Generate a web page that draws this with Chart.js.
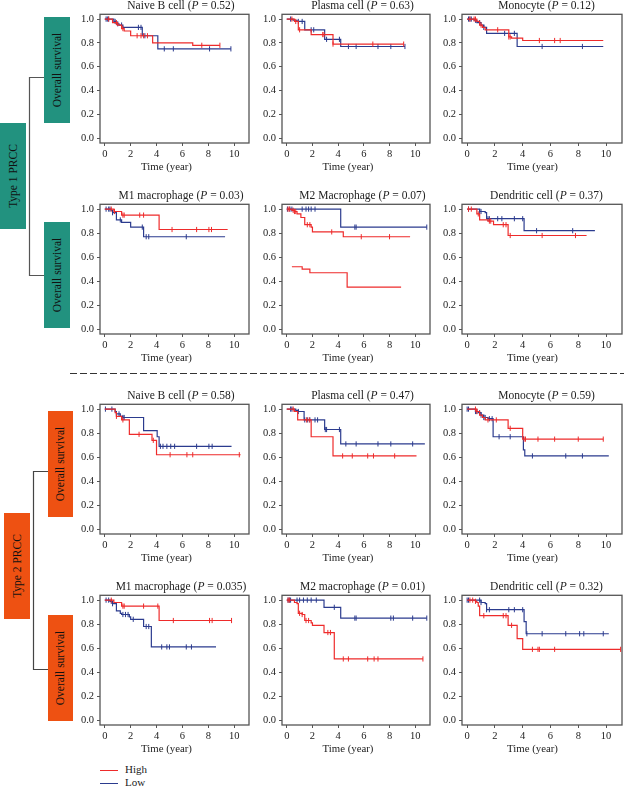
<!DOCTYPE html>
<html>
<head>
<meta charset="utf-8">
<script src="https://cdn.jsdelivr.net/npm/chart.js@4.4.0/dist/chart.umd.min.js"></script>
<style>
  body { margin: 0; background: #fff; font-family: "Liberation Serif", serif; }
  #fig { position: relative; width: 624px; height: 786px; overflow: hidden; background: #fff; }
  .panel { position: absolute; }
  .ptitle { position: absolute; font-size: 11.5px; line-height: 14px; height: 14px; color: #222; white-space: nowrap; transform: translateX(-50%); }
  .xtitle { position: absolute; font-size: 10.8px; line-height: 13px; height: 13px; color: #222; white-space: nowrap; transform: translateX(-50%); }
  .tag { position: absolute; display: flex; align-items: center; justify-content: center; }
  .tag span { transform: rotate(-90deg); white-space: nowrap; font-size: 11.5px; color: #111; }
  .teal { background: #22927f; }
  .orange { background: #ee5112; }
  .leg { position: absolute; left: 100px; font-size: 11px; line-height: 12px; color: #222; }
  .leg i { display: inline-block; width: 18px; height: 1.3px; vertical-align: middle; margin-right: 7px; }
</style>
</head>
<body>
<div id="fig">
  <svg width="624" height="786" style="position:absolute;left:0;top:0">
    <path d="M44 77.5 H29.5 V275.5 H44" stroke="#555" stroke-width="1.2" fill="none"/>
    <path d="M48 471.5 H33.5 V669.5 H48" stroke="#444" stroke-width="1.2" fill="none"/>
    <line x1="70" y1="373.5" x2="624" y2="373.5" stroke="#333" stroke-width="1.2" stroke-dasharray="7 3"/>
  </svg>
  <div class="tag teal" style="left:44px;top:17px;width:26px;height:106px"><span>Overall survival</span></div>
  <div class="tag teal" style="left:44px;top:222px;width:26px;height:106px"><span>Overall survival</span></div>
  <div class="tag teal" style="left:0px;top:123px;width:26px;height:106px"><span>Type 1 PRCC</span></div>
  <div class="tag orange" style="left:48px;top:411px;width:25px;height:106px"><span>Overall survival</span></div>
  <div class="tag orange" style="left:48px;top:615px;width:25px;height:106px"><span>Overall survival</span></div>
  <div class="tag orange" style="left:4px;top:513px;width:26px;height:106px"><span>Type 2 PRCC</span></div>
  <div class="leg" style="top:763px"><i style="background:#ee2b2b"></i>High</div>
  <div class="leg" style="top:776px"><i style="background:#2b3b8e"></i>Low</div>
</div>
<script>
// axis ticks
const xTicks = [0, 2, 4, 6, 8, 10];
const yTicks = [0, 0.2, 0.4, 0.6, 0.8, 1.0];

const panelNames = ['Naive B cell', 'Plasma cell', 'Monocyte', 'M1 macrophage', 'M2 Macrophage', 'Dendritic cell',
                    'Naive B cell', 'Plasma cell', 'Monocyte', 'M1 macrophage', 'M2 macrophage', 'Dendritic cell'];
const pValues = ['0.52', '0.63', '0.12', '0.03', '0.07', '0.37', '0.58', '0.47', '0.59', '0.035', '0.01', '0.32'];

// KM steps as [time, survival], censor times
// Type 1 PRCC
const t1NaiveHigh = [[0,1],[0.6,0.97],[1.0,0.95],[1.3,0.92],[1.5,0.9],[2.0,0.86],[3.7,0.8],[6.8,0.78],[8.9,0.78]];
const t1NaiveHighCens = [0.3, 0.9, 1.4, 2.5, 2.8, 3.0, 3.3, 7.5, 8.9];
const t1NaiveLow = [[0,1],[0.7,0.98],[0.9,0.96],[1.1,0.95],[1.4,0.93],[2.9,0.86],[4.1,0.75],[9.75,0.75]];
const t1NaiveLowCens = [0.1, 0.2, 0.3, 0.8, 1.0, 1.3, 2.6, 2.8, 3.1, 4.6, 5.3, 8.1, 9.75];

const t1PlasmaHigh = [[0,1],[0.6,0.98],[0.9,0.91],[1.9,0.87],[3.6,0.79],[9.1,0.79]];
const t1PlasmaHighCens = [0.4, 0.7, 1.0, 2.8, 2.9, 3.6, 6.7, 9.1];
const t1PlasmaLow = [[0,1],[0.5,0.99],[0.8,0.98],[1.4,0.91],[2.95,0.83],[4.2,0.77],[9.2,0.77]];
const t1PlasmaLowCens = [0.3, 0.9, 1.2, 1.9, 2.1, 3.1, 4.1, 4.8, 5.4, 7.1, 8.1, 9.2];

const t1MonoHigh = [[0,1],[0.7,0.98],[0.9,0.95],[1.1,0.93],[1.3,0.91],[3.0,0.85],[3.2,0.84],[4.0,0.82],[9.8,0.82]];
const t1MonoHighCens = [0.2, 0.5, 0.6, 1.0, 2.2, 3.0, 3.1, 5.2, 6.3, 6.7];
const t1MonoLow = [[0,1],[0.5,0.99],[0.7,0.97],[1.0,0.95],[1.2,0.93],[1.4,0.88],[3.6,0.77],[9.8,0.77]];
const t1MonoLowCens = [0.1, 0.2, 0.3, 0.6, 0.9, 1.2, 2.7, 3.4, 5.4, 8.3];

const t1M1High = [[0,1],[0.7,0.98],[1.3,0.95],[4.2,0.83],[9.5,0.83]];
const t1M1HighCens = [0.5, 0.75, 1.4, 1.5, 2.7, 3.0, 5.2, 7.1, 8.05, 8.25];
const t1M1Low = [[0,1],[0.5,0.99],[0.6,0.97],[0.9,0.91],[1.3,0.89],[2.0,0.85],[3.0,0.77],[9.3,0.77]];
const t1M1LowCens = [0.1, 0.3, 0.4, 0.6, 1.2, 2.9, 3.2, 3.4, 6.3];

const t1M2High = [[0,1],[0.4,0.99],[0.6,0.98],[0.8,0.96],[1.1,0.93],[1.4,0.87],[1.9,0.85],[2.0,0.81],[4.4,0.77],[9.6,0.77]];
const t1M2HighCens = [0.1, 0.2, 0.5, 0.6, 0.7, 1.6, 1.8, 3.5, 5.8, 8.0];
const t1M2HighExtra = [[0.4,0.52],[1.2,0.5],[1.8,0.47],[4.7,0.35],[8.9,0.35]];
const t1M2Low = [[0,1],[4.2,0.85],[10.9,0.85]];
const t1M2LowCens = [0.05, 0.25, 0.4, 1.2, 1.5, 1.7, 1.9, 2.2, 5.3, 5.4, 10.9];

const t1DcHigh = [[0,1],[0.7,0.96],[0.9,0.91],[1.5,0.9],[1.9,0.87],[2.95,0.78],[8.6,0.78]];
const t1DcHighCens = [0.1, 0.3, 0.8, 1.6, 1.7, 2.6, 2.8, 3.1, 5.4, 7.8];
const t1DcLow = [[0,1],[0.9,0.98],[1.3,0.97],[1.4,0.92],[4.1,0.82],[9.2,0.82]];
const t1DcLowCens = [0.1, 0.9, 1.0, 1.5, 1.6, 2.2, 2.5, 3.4, 4.0, 5.0, 7.6];

// Type 2 PRCC
const t2NaiveHigh = [[0,1],[0.8,0.97],[0.9,0.94],[1.3,0.91],[1.9,0.79],[3.65,0.74],[4.0,0.62],[10.5,0.62]];
const t2NaiveHighCens = [0.9, 1.4, 2.65, 3.75, 5.05, 6.35, 6.8, 10.4];
const t2NaiveLow = [[0,1],[0.8,0.98],[0.9,0.96],[1.2,0.94],[1.4,0.93],[3.0,0.82],[4.05,0.77],[4.2,0.69],[9.8,0.69]];
const t2NaiveLowCens = [0.05, 0.55, 0.9, 1.1, 1.4, 1.5, 4.3, 4.5, 4.8, 5.1, 5.4, 7.1, 8.05, 8.3];

const t2PlasmaHigh = [[0,1],[0.6,0.98],[0.85,0.91],[1.9,0.77],[3.6,0.61],[10.1,0.61]];
const t2PlasmaHighCens = [0.5, 1.55, 1.75, 4.35, 5.1, 6.3, 6.75, 8.4];
const t2PlasmaLow = [[0,1],[0.7,0.99],[0.9,0.98],[1.35,0.91],[2.95,0.83],[4.2,0.71],[10.75,0.71]];
const t2PlasmaLowCens = [0.3, 0.4, 0.9, 1.4, 1.6, 1.8, 2.2, 2.4, 3.0, 3.1, 4.1, 4.6, 5.4, 7.1, 8.1, 9.8];

const t2MonoHigh = [[0,1],[0.7,0.98],[0.9,0.95],[1.1,0.93],[1.3,0.91],[2.95,0.84],[4.0,0.75],[9.8,0.75]];
const t2MonoHighCens = [0.6, 0.7, 1.5, 2.1, 3.1, 4.1, 4.2, 5.1, 6.3, 8.0, 9.8];
const t2MonoLow = [[0,1],[0.6,0.98],[0.8,0.97],[1.0,0.95],[1.2,0.93],[1.5,0.92],[1.87,0.77],[4.05,0.66],[4.15,0.61],[10.2,0.61]];
const t2MonoLowCens = [0.0, 0.1, 0.6, 0.7, 0.9, 1.0, 1.2, 1.3, 1.6, 1.8, 2.3, 3.1, 4.7, 7.1, 8.3];

const t2M1High = [[0,1],[0.7,0.98],[1.3,0.95],[4.2,0.83],[9.8,0.83]];
const t2M1HighCens = [0.5, 1.4, 1.5, 3.0, 4.1, 5.3, 8.1, 8.3, 9.8];
const t2M1Low = [[0,1],[0.4,0.99],[0.6,0.97],[0.9,0.91],[1.2,0.89],[1.3,0.88],[1.9,0.86],[2.0,0.84],[3.0,0.78],[3.6,0.61],[8.6,0.61]];
const t2M1LowCens = [0.1, 0.3, 0.5, 0.6, 1.4, 1.6, 1.8, 2.2, 3.2, 3.4, 4.4, 4.8, 5.0, 6.3, 6.7];

const t2M2High = [[0,1],[0.6,0.98],[0.8,0.97],[0.9,0.89],[1.2,0.88],[1.4,0.83],[1.9,0.81],[2.0,0.79],[2.9,0.73],[3.7,0.51],[10.6,0.51]];
const t2M2HighCens = [0.1, 0.2, 1.0, 1.2, 1.5, 1.7, 3.2, 3.4, 4.4, 4.8, 6.3, 6.8, 7.1, 10.6];
const t2M2Low = [[0,1],[2.9,0.94],[4.2,0.85],[10.9,0.85]];
const t2M2LowCens = [0.1, 0.2, 0.3, 0.8, 1.0, 1.3, 1.6, 1.9, 2.3, 3.7, 5.3, 5.4, 8.1, 8.3, 9.8, 10.9];

const t2DcHigh = [[0,1],[0.6,0.99],[0.7,0.98],[0.8,0.95],[0.9,0.87],[2.95,0.79],[3.6,0.68],[4.0,0.59],[11.05,0.59]];
const t2DcHighCens = [0.2, 0.4, 0.6, 1.2, 2.6, 2.8, 3.2, 4.7, 5.1, 5.2, 6.3, 11.05];
const t2DcLow = [[0,1],[1.0,0.98],[1.3,0.97],[1.4,0.92],[4.1,0.82],[4.25,0.72],[10.2,0.72]];
const t2DcLowCens = [0.0, 0.1, 0.9, 1.0, 1.4, 1.6, 3.0, 3.4, 4.0, 4.3, 5.4, 7.1, 8.1, 8.4, 9.8];

const highCurves = [t1NaiveHigh, t1PlasmaHigh, t1MonoHigh, t1M1High, t1M2High, t1DcHigh,
                    t2NaiveHigh, t2PlasmaHigh, t2MonoHigh, t2M1High, t2M2High, t2DcHigh];
const highCens = [t1NaiveHighCens, t1PlasmaHighCens, t1MonoHighCens, t1M1HighCens, t1M2HighCens, t1DcHighCens,
                  t2NaiveHighCens, t2PlasmaHighCens, t2MonoHighCens, t2M1HighCens, t2M2HighCens, t2DcHighCens];
const lowCurves = [t1NaiveLow, t1PlasmaLow, t1MonoLow, t1M1Low, t1M2Low, t1DcLow,
                   t2NaiveLow, t2PlasmaLow, t2MonoLow, t2M1Low, t2M2Low, t2DcLow];
const lowCens = [t1NaiveLowCens, t1PlasmaLowCens, t1MonoLowCens, t1M1LowCens, t1M2LowCens, t1DcLowCens,
                 t2NaiveLowCens, t2PlasmaLowCens, t2MonoLowCens, t2M1LowCens, t2M2LowCens, t2DcLowCens];

const RED = '#ee2b2b', BLUE = '#2b3b8e';
const FONT = 'Liberation Serif';

// layout of the plot boxes
const rowTops = [13, 203, 403, 594];
const rowHeights = [130, 131, 131, 131];
const colLefts = [100, 282, 462];
const colWidths = [150, 149, 161];
const AXW = 34, PADT = 8, PADR = 4, AXH = 30;

Chart.defaults.font.family = FONT;

function survAt(steps, t) {
  let s = steps[0][1];
  for (const [x, y] of steps) { if (x <= t) s = y; }
  return s;
}

const boxPlugin = {
  id: 'box',
  beforeDatasetsDraw(chart) {
    const { ctx, chartArea: a } = chart;
    ctx.save();
    ctx.strokeStyle = '#555';
    ctx.lineWidth = 1.3;
    ctx.strokeRect(a.left, a.top, a.right - a.left, a.bottom - a.top);
    ctx.restore();
  }
};

function curve(steps, color) {
  return {
    data: steps.map(([x, y]) => ({ x, y })),
    borderColor: color, borderWidth: 1.2, stepped: 'before',
    pointRadius: 0, fill: false
  };
}
function censors(times, steps, color) {
  return {
    data: times.map(t => ({ x: t, y: survAt(steps, t) })),
    showLine: false, pointStyle: 'line', rotation: 90,
    pointRadius: 2.6, pointBorderWidth: 1, borderColor: color, pointBorderColor: color
  };
}

const fig = document.getElementById('fig');

panelNames.forEach((name, i) => {
  const row = Math.floor(i / 3), col = i % 3;
  const bx = colLefts[col], by = rowTops[row], bw = colWidths[col], bh = rowHeights[row];
  const W = AXW + bw + PADR, H = PADT + bh + AXH;

  const wrap = document.createElement('div');
  wrap.className = 'panel';
  wrap.style.cssText = `left:${bx - AXW}px;top:${by - PADT}px;width:${W}px;height:${H}px`;
  const cv = document.createElement('canvas');
  cv.width = W; cv.height = H;
  cv.style.width = W + 'px'; cv.style.height = H + 'px';
  wrap.appendChild(cv);
  fig.appendChild(wrap);

  const t = document.createElement('div');
  t.className = 'ptitle';
  t.style.left = (bx + bw / 2 + (col === 2 ? 4 : 6)) + 'px';
  t.style.top = (by - 15) + 'px';
  t.innerHTML = `${name} (<i>P</i> = ${pValues[i]})`;
  fig.appendChild(t);

  const xt = document.createElement('div');
  xt.className = 'xtitle';
  xt.style.left = (bx + bw / 2 - (col === 2 ? 10 : 8.5)) + 'px';
  xt.style.top = (by + bh + 17) + 'px';
  xt.textContent = 'Time (year)';
  fig.appendChild(xt);

  const datasets = [
    censors(highCens[i], highCurves[i], RED),
    curve(highCurves[i], RED),
    censors(lowCens[i], lowCurves[i], BLUE),
    curve(lowCurves[i], BLUE)
  ];
  if (i === 4) datasets.push(curve(t1M2HighExtra, RED));

  new Chart(cv, {
    type: 'line',
    data: { datasets },
    options: {
      responsive: false,
      animation: false,
      devicePixelRatio: 1,
      layout: { padding: { top: PADT, right: PADR, left: 0, bottom: 0 } },
      plugins: { legend: { display: false }, tooltip: { enabled: false } },
      scales: {
        x: {
          type: 'linear', min: -0.37, max: 11.15,
          afterBuildTicks: s => { s.ticks = xTicks.map(v => ({ value: v })); },
          afterFit: s => { s.height = AXH; },
          ticks: { font: { size: 10.5 }, color: '#222', padding: 2, maxRotation: 0 },
          grid: { drawOnChartArea: false, drawTicks: true, tickLength: 3, color: '#555' },
          border: { display: false }
        },
        y: {
          type: 'linear', min: -0.04, max: 1.04,
          afterBuildTicks: s => { s.ticks = yTicks.map(v => ({ value: v })); },
          afterFit: s => { s.width = AXW; },
          ticks: { font: { size: 10.5 }, color: '#222', padding: 3, callback: v => v.toFixed(1) },
          grid: { drawOnChartArea: false, drawTicks: true, tickLength: 3, color: '#555' },
          border: { display: false }
        }
      }
    },
    plugins: [boxPlugin]
  });
});
</script>
</body>
</html>
